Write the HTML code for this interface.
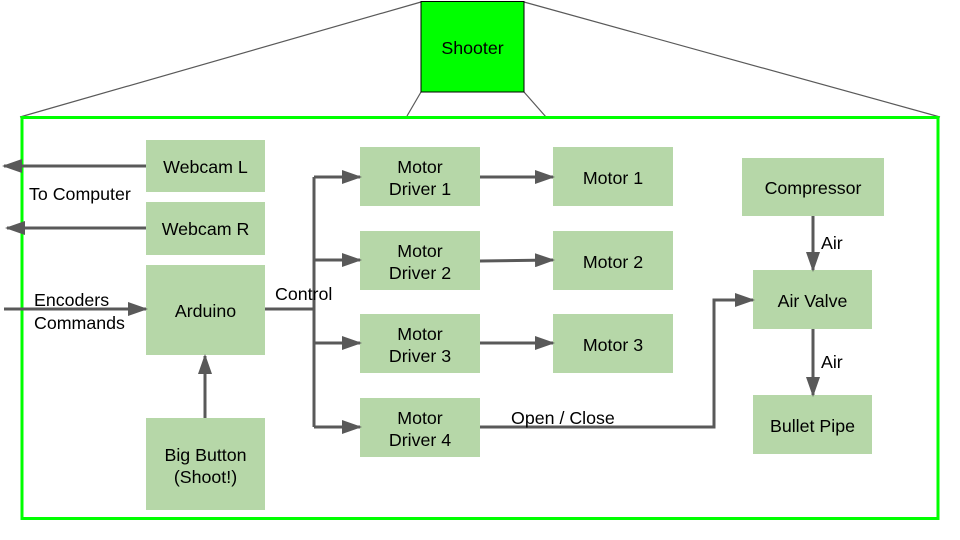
<!DOCTYPE html>
<html><head><meta charset="utf-8"><style>
html,body{margin:0;padding:0;background:#fff;}
svg{display:block;}
text{font-family:"Liberation Sans",Arial,sans-serif;font-size:17.8px;fill:#000;}
</style></head><body>
<svg width="960" height="540" viewBox="0 0 960 540" xmlns="http://www.w3.org/2000/svg">
<defs>
<marker id="b" markerWidth="20" markerHeight="14" refX="18" refY="7" orient="auto" markerUnits="userSpaceOnUse">
<path d="M0,0 L20,7 L0,14 z" fill="#595959"/>
</marker>
</defs>
<g stroke="#595959" stroke-width="1.2" fill="none">
<line x1="421" y1="2" x2="20" y2="117"/>
<line x1="524" y1="2" x2="940" y2="117"/>
<line x1="421" y1="92" x2="407" y2="116"/>
<line x1="524" y1="92" x2="546" y2="117"/>
</g>
<rect x="421" y="1.5" width="103" height="90.5" fill="#00ff00" stroke="#000" stroke-width="1"/>
<text x="472.5" y="54" text-anchor="middle">Shooter</text>
<rect x="22" y="117.5" width="916" height="401" fill="none" stroke="#00ff00" stroke-width="3"/>
<g fill="#b6d7a8">
<rect x="146" y="140" width="119" height="52"/>
<rect x="146" y="202" width="119" height="53"/>
<rect x="146" y="265" width="119" height="90"/>
<rect x="146" y="418" width="119" height="92"/>
<rect x="360" y="147" width="120" height="59"/>
<rect x="360" y="231" width="120" height="59"/>
<rect x="360" y="314" width="120" height="59"/>
<rect x="360" y="398" width="120" height="59"/>
<rect x="553" y="147" width="120" height="59"/>
<rect x="553" y="231" width="120" height="59"/>
<rect x="553" y="314" width="120" height="59"/>
<rect x="742" y="158" width="142" height="58"/>
<rect x="753" y="270" width="119" height="59"/>
<rect x="753" y="395" width="119" height="59"/>
</g>
<g stroke="#595959" stroke-width="3" fill="none">
<line x1="146" y1="166" x2="4" y2="166" marker-end="url(#b)"/>
<line x1="146" y1="228" x2="7" y2="228" marker-end="url(#b)"/>
<line x1="4" y1="309" x2="146" y2="309" marker-end="url(#b)"/>
<line x1="205" y1="418" x2="205" y2="356" marker-end="url(#b)"/>
<polyline points="265,309 314,309"/>
<polyline points="314,427 314,177"/>
<line x1="314" y1="177" x2="360" y2="177" marker-end="url(#b)"/>
<line x1="314" y1="260" x2="360" y2="260" marker-end="url(#b)"/>
<line x1="314" y1="343" x2="360" y2="343" marker-end="url(#b)"/>
<line x1="314" y1="427" x2="360" y2="427" marker-end="url(#b)"/>
<line x1="480" y1="177" x2="553" y2="177" marker-end="url(#b)"/>
<line x1="480" y1="261" x2="553" y2="260" marker-end="url(#b)"/>
<line x1="480" y1="343" x2="553" y2="343" marker-end="url(#b)"/>
<polyline points="480,427 714,427 714,300 753,300" marker-end="url(#b)"/>
<line x1="813" y1="216" x2="813" y2="270" marker-end="url(#b)"/>
<line x1="813" y1="329" x2="813" y2="395" marker-end="url(#b)"/>
</g>
<text x="205.5" y="173" text-anchor="middle">Webcam L</text>
<text x="205.5" y="235" text-anchor="middle">Webcam R</text>
<text x="205.5" y="317" text-anchor="middle">Arduino</text>
<text x="205.5" y="461" text-anchor="middle">Big Button</text>
<text x="205.5" y="483" text-anchor="middle">(Shoot!)</text>
<text x="420" y="173" text-anchor="middle">Motor</text>
<text x="420" y="195" text-anchor="middle">Driver 1</text>
<text x="420" y="257" text-anchor="middle">Motor</text>
<text x="420" y="279" text-anchor="middle">Driver 2</text>
<text x="420" y="340" text-anchor="middle">Motor</text>
<text x="420" y="362" text-anchor="middle">Driver 3</text>
<text x="420" y="424" text-anchor="middle">Motor</text>
<text x="420" y="446" text-anchor="middle">Driver 4</text>
<text x="613" y="184" text-anchor="middle">Motor 1</text>
<text x="613" y="268" text-anchor="middle">Motor 2</text>
<text x="613" y="351" text-anchor="middle">Motor 3</text>
<text x="813" y="194" text-anchor="middle">Compressor</text>
<text x="812.5" y="307" text-anchor="middle">Air Valve</text>
<text x="812.5" y="432" text-anchor="middle">Bullet Pipe</text>
<text x="29" y="200">To Computer</text>
<text x="34" y="306">Encoders</text>
<text x="34" y="329">Commands</text>
<text x="275" y="300">Control</text>
<text x="511" y="424">Open / Close</text>
<text x="821" y="249">Air</text>
<text x="821" y="368">Air</text>
</svg>
</body></html>
